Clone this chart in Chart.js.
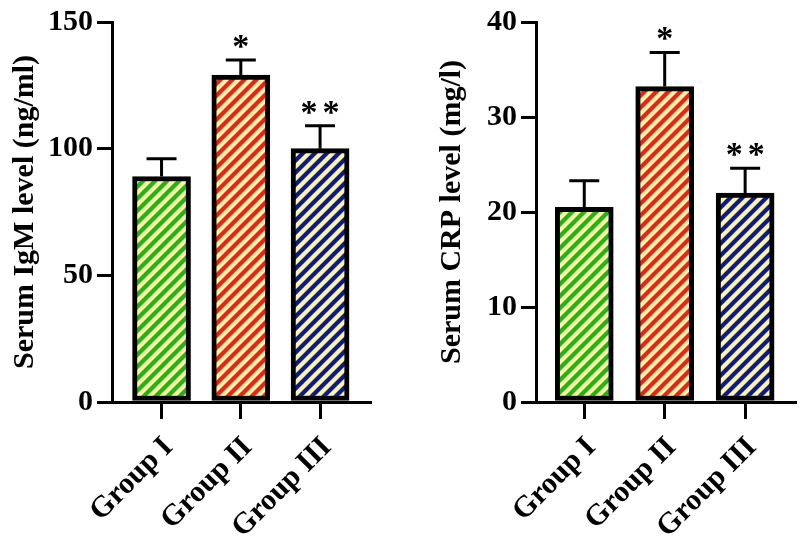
<!DOCTYPE html>
<html>
<head>
<meta charset="utf-8">
<script src="https://cdn.jsdelivr.net/npm/chart.js@4.4.0/dist/chart.umd.min.js"></script>
<style>
  html, body { margin: 0; padding: 0; background: #fff; }
  #wrap { display: flex; width: 800px; height: 544px; }
  .panel { position: relative; width: 400px; height: 544px; }
</style>
</head>
<body>
<div id="wrap">
  <div class="panel"><canvas id="igmChart"></canvas></div>
  <div class="panel"><canvas id="crpChart"></canvas></div>
</div>
<script>
// values
const groups = ['Group I', 'Group II', 'Group III'];
const stripeColors = ['#22b414', '#e8231a', '#0d1a8f'];

const igmMeans = [89, 129, 100];
const igmErrors = [7, 6, 9];
const igmMarks = ['', '*', '**'];
const igmTicks = [0, 50, 100, 150];

const crpMeans = [20.5, 33.2, 22.0];
const crpErrors = [2.8, 3.6, 2.6];
const crpMarks = ['', '*', '**'];
const crpTicks = [0, 10, 20, 30, 40];

const FONT = "'Liberation Serif', 'Times New Roman', serif";

// diagonal "/" hatch on pale yellow
function stripes(color) {
    const s = 12;
    const c = document.createElement('canvas');
    c.width = s;
    c.height = s;
    const ctx = c.getContext('2d');
    ctx.fillStyle = '#fcf5a8';
    ctx.fillRect(0, 0, s, s);
    ctx.strokeStyle = color;
    ctx.lineWidth = s / (2 * Math.SQRT2);
    ctx.beginPath();
    [0, s, 2 * s].forEach(k => {
        ctx.moveTo(-2, k + 2);
        ctx.lineTo(s + 2, k - s - 2);
    });
    ctx.stroke();
    return ctx.createPattern(c, 'repeat');
}

const errorBars = {
    id: 'errorBars',
    afterDatasetsDraw(chart, args, opts) {
        const ctx = chart.ctx;
        const yScale = chart.scales.y;
        const meta = chart.getDatasetMeta(0);
        ctx.save();
        ctx.strokeStyle = '#000';
        ctx.lineWidth = 3;
        meta.data.forEach((bar, i) => {
            const top = yScale.getPixelForValue(opts.means[i] + opts.errors[i]);
            ctx.beginPath();
            ctx.moveTo(bar.x, bar.y);
            ctx.lineTo(bar.x, top);
            ctx.moveTo(bar.x - 15, top);
            ctx.lineTo(bar.x + 15, top);
            ctx.stroke();

            const mark = opts.marks[i];
            ctx.fillStyle = '#000';
            ctx.font = 'bold 34px ' + FONT;
            ctx.textAlign = 'center';
            ctx.textBaseline = 'alphabetic';
            const gap = 22;
            const start = bar.x - (mark.length - 1) * gap / 2;
            for (let k = 0; k < mark.length; k++) {
                ctx.fillText(mark[k], start + k * gap, top - 3);
            }
        });
        ctx.restore();
    }
};

function makeChart(id, means, errors, marks, ticks, title, cfg) {
    const tickFont = { family: FONT, size: 30, weight: 'bold' };
    return new Chart(document.getElementById(id), {
        type: 'bar',
        data: {
            datasets: [{
                data: means.map((m, i) => ({ x: i, y: m })),
                backgroundColor: stripeColors.map(stripes),
                borderColor: '#000',
                borderWidth: 5,
                borderSkipped: false,
                barThickness: 58
            }]
        },
        options: {
            responsive: true,
            maintainAspectRatio: false,
            animation: false,
            layout: { padding: { top: 21, right: cfg.rightPad, bottom: 0, left: 0 } },
            plugins: {
                legend: { display: false },
                tooltip: { enabled: false },
                errorBars: { means: means, errors: errors, marks: marks }
            },
            scales: {
                x: {
                    type: 'linear',
                    offset: false,
                    min: cfg.xMin,
                    max: cfg.xMax,
                    afterBuildTicks: (scale) => {
                        scale.ticks = groups.map((g, i) => ({ value: i }));
                    },
                    afterFit: (scale) => { scale.height = 142; },
                    ticks: {
                        autoSkip: false,
                        minRotation: 45,
                        maxRotation: 45,
                        color: '#000',
                        font: tickFont,
                        padding: 11,
                        labelOffset: 7,
                        callback: (v) => groups[v]
                    },
                    grid: { offset: false, drawOnChartArea: false, drawTicks: true, tickLength: 17, color: '#000', lineWidth: 3 },
                    border: { display: true, color: '#000', width: 3 }
                },
                y: {
                    min: 0,
                    max: ticks[ticks.length - 1],
                    afterBuildTicks: (scale) => {
                        scale.ticks = ticks.map(v => ({ value: v }));
                    },
                    afterFit: (scale) => { scale.width = cfg.axisLeft; },
                    ticks: { color: '#000', font: tickFont, padding: 4 },
                    grid: { drawOnChartArea: false, drawTicks: true, tickLength: 15, color: '#000', lineWidth: 3 },
                    border: { display: true, color: '#000', width: 3 },
                    title: {
                        display: true,
                        text: title,
                        color: '#000',
                        font: { family: FONT, size: 30, weight: 'bold' },
                        padding: { top: cfg.titlePad, bottom: 0 }
                    }
                }
            }
        },
        plugins: [errorBars]
    });
}

makeChart('igmChart', igmMeans, igmErrors, igmMarks, igmTicks, 'Serum IgM level (ng/ml)',
    { axisLeft: 112, rightPad: 30, xMin: -0.625, xMax: 2.63, titlePad: 7 });
makeChart('crpChart', crpMeans, crpErrors, crpMarks, crpTicks, 'Serum CRP level (mg/l)',
    { axisLeft: 136, rightPad: 5, xMin: -0.6, xMax: 2.62, titlePad: 34 });
</script>
</body>
</html>
